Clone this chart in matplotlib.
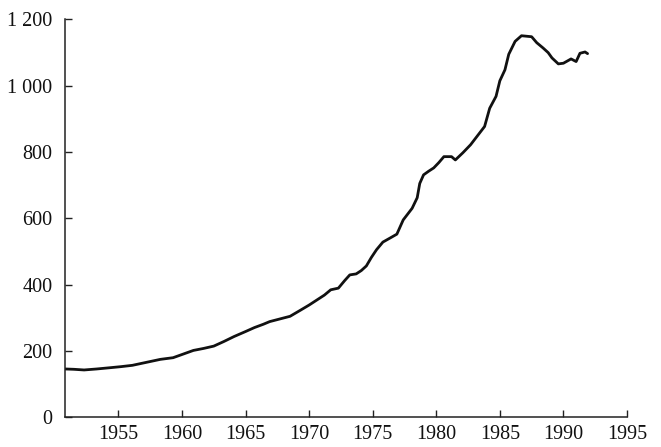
import matplotlib
matplotlib.use("Agg")
import matplotlib.pyplot as plt

years = [1950.8, 1951.5, 1952.3, 1953.3, 1954.4, 1955.2, 1956.1, 1957.2, 1958.3, 1959.3,
         1960.1, 1960.9, 1961.7, 1962.5, 1963.3, 1964.1, 1965.0, 1965.7, 1966.4, 1966.9,
         1967.7, 1968.5, 1969.3, 1970.0, 1970.6, 1971.2, 1971.7, 1972.3, 1972.8, 1973.2,
         1973.7, 1974.1, 1974.5, 1974.9, 1975.3, 1975.8, 1976.4, 1976.9, 1977.4, 1978.1,
         1978.5, 1978.7, 1979.0, 1979.4, 1979.8, 1980.2, 1980.6, 1981.2, 1981.5, 1982.1,
         1982.7, 1983.3, 1983.8, 1984.2, 1984.7, 1985.0, 1985.4, 1985.7, 1986.2, 1986.7,
         1987.5, 1987.9, 1988.4, 1988.8, 1989.1, 1989.6, 1990.0, 1990.6, 1991.0, 1991.3,
         1991.7, 1991.9]
values = [145, 144, 142, 145, 149, 152, 156, 165, 174, 179,
          190, 201, 207, 214, 228, 243, 258, 270, 280, 288,
          296, 304, 322, 338, 353, 368, 384, 389, 412, 429,
          432, 442, 456, 482, 505, 528, 541, 552, 595, 630,
          662, 705, 731, 742, 752, 768, 786, 786, 776, 798,
          822, 852, 877, 932, 968, 1015, 1048, 1095, 1134, 1151,
          1148, 1130, 1114, 1100, 1084, 1066, 1068, 1081, 1073, 1098,
          1102, 1097]

x_ticks = [1955, 1960, 1965, 1970, 1975, 1980, 1985, 1990, 1995]
y_ticks = [0, 200, 400, 600, 800, 1000, 1200]
y_tick_labels = ["0", "200", "400", "600", "800", "1 000", "1 200"]

plt.rcParams['font.family'] = ['Liberation Serif', 'DejaVu Serif']

fig = plt.figure(figsize=(6.61, 4.47), dpi=100)
ax = fig.add_axes([65/661, 1 - 417/447, (627 - 65)/661, (417 - 19.5)/447])

ax.plot(years, values, color='#111111', linewidth=2.0,
        solid_joinstyle='round', solid_capstyle='round')

ax.set_xlim(1950.8, 1995)
ax.set_ylim(0, 1200)
ax.set_xticks(x_ticks)
ax.set_xticklabels([str(t) for t in x_ticks])
ax.set_yticks(y_ticks)
ax.set_yticklabels(y_tick_labels)

for s in ['top', 'right']:
    ax.spines[s].set_visible(False)
for s in ['left', 'bottom']:
    ax.spines[s].set_linewidth(1.1)
    ax.spines[s].set_color('#222222')

ax.tick_params(axis='both', direction='in', length=5, width=1.0, color='#222222',
               labelsize=14.5, labelcolor='#111111')
ax.tick_params(axis='x', pad=6)
ax.tick_params(axis='y', pad=9)

fig.savefig("out.png", dpi=100)
